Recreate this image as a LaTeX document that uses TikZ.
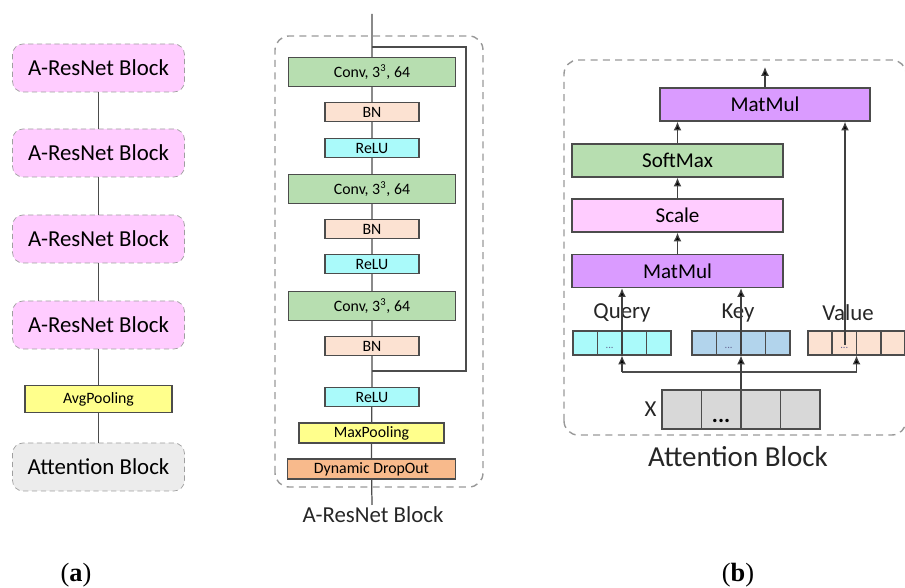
\documentclass[tikz,border=0pt]{standalone}
\usepackage{fontspec}
\setmainfont{Carlito}
\newfontfamily\capfont{Liberation Serif}
\usepackage{tikz}
\usetikzlibrary{positioning,arrows.meta,calc}
\definecolor{blockpink}{RGB}{255,204,255}
\definecolor{attgray}{RGB}{236,236,236}
\definecolor{convgreen}{RGB}{183,222,176}
\definecolor{bnpeach}{RGB}{252,226,210}
\definecolor{reluc}{RGB}{170,250,250}
\definecolor{poolyellow}{RGB}{255,255,140}
\definecolor{dropor}{RGB}{248,186,140}
\definecolor{matpurple}{RGB}{218,155,255}
\definecolor{kblue}{RGB}{178,212,236}
\definecolor{xgray}{RGB}{216,216,216}
\tikzset{
  wire/.style={draw=black!70, line width=0.7pt},
  arrowwire/.style={-{Latex[length=5pt,width=4.5pt,fill=black]}, draw=black!75, line width=0.7pt},
  blocknode/.style={draw=gray!75, dashed, dash pattern=on 3pt off 2pt, rounded corners=6pt, fill=blockpink, minimum width=3.44cm, minimum height=0.96cm, font=\fontsize{13}{15}\selectfont},
  layernode/.style={draw=black!70, line width=0.7pt, minimum width=3.34cm, minimum height=0.58cm, inner sep=0pt, font=\fontsize{9}{11}\selectfont},
  smallnode/.style={layernode, minimum width=1.88cm, minimum height=0.38cm},
  opnode/.style={draw=black!70, line width=0.8pt, minimum width=4.22cm, minimum height=0.66cm, inner sep=0pt, font=\fontsize{12}{14}\selectfont},
  cellrow/.style={draw=black!70, line width=0.6pt, minimum width=1.96cm, minimum height=0.48cm, inner sep=0pt},
  cellline/.style={draw=black!70, line width=0.6pt},
  dotsnode/.style={font=\fontsize{6}{7}\selectfont, text=blue!30!black!60, inner sep=0pt},
  panelbox/.style={draw=gray!80, dashed, dash pattern=on 4pt off 3pt, line width=0.8pt, rounded corners=8pt},
  labelnode/.style={font=\fontsize{13}{15}\selectfont, text=black!85, inner sep=1pt}
}
\begin{document}
\begin{tikzpicture}[>=Latex]
  \useasboundingbox (0,0) rectangle (18.10,11.76);
  % (a) network
  \node[blocknode] (blk1) at (1.97,10.40) {A-ResNet Block};
  \node[blocknode] (blk2) at (1.97,8.70) {A-ResNet Block};
  \node[blocknode] (blk3) at (1.97,6.98) {A-ResNet Block};
  \node[blocknode] (blk4) at (1.97,5.26) {A-ResNet Block};
  \node[layernode, fill=poolyellow, minimum width=2.94cm, minimum height=0.54cm] (avgp) at (1.97,3.78) {AvgPooling};
  \node[blocknode, fill=attgray] (attb) at (1.97,2.42) {Attention Block};
  \draw[wire] (blk1) -- (blk2) -- (blk3) -- (blk4) -- (avgp) -- (attb);

  % A-ResNet block
  \coordinate (resin) at (7.44,11.48);
  \coordinate (resout) at (7.44,1.66);
  \node[layernode, fill=convgreen] (conv1) at (7.44,10.32) {Conv, 3\textsuperscript{3}, 64};
  \node[smallnode, fill=bnpeach] (bn1) at (7.44,9.52) {BN};
  \node[smallnode, fill=reluc] (relu1) at (7.44,8.80) {ReLU};
  \node[layernode, fill=convgreen] (conv2) at (7.44,7.98) {Conv, 3\textsuperscript{3}, 64};
  \node[smallnode, fill=bnpeach] (bn2) at (7.44,7.18) {BN};
  \node[smallnode, fill=reluc] (relu2) at (7.44,6.48) {ReLU};
  \node[layernode, fill=convgreen] (conv3) at (7.44,5.64) {Conv, 3\textsuperscript{3}, 64};
  \node[smallnode, fill=bnpeach] (bn3) at (7.44,4.84) {BN};
  \node[smallnode, fill=reluc] (relu3) at (7.44,3.82) {ReLU};
  \node[layernode, fill=poolyellow, minimum width=2.90cm, minimum height=0.40cm] (maxp) at (7.43,3.10) {MaxPooling};
  \node[layernode, fill=dropor, minimum width=3.36cm, minimum height=0.40cm] (drop) at (7.43,2.38) {Dynamic DropOut};
  \draw[wire] (resin) -- (conv1) -- (bn1) -- (relu1) -- (conv2) -- (bn2) -- (relu2) -- (conv3) -- (bn3) -- (relu3) -- (maxp) -- (drop) -- (resout);
  \coordinate (skiptop) at (7.44,10.82);
  \coordinate (skipbot) at (7.44,4.34);
  \draw[wire] (skiptop) -- ++(1.88,0) |- (skipbot);
  \draw[panelbox] (5.50,2.02) rectangle (9.66,11.04);
  \node[labelnode] (reslabel) at (7.46,1.46) {A-ResNet Block};

  % attention block
  \draw[panelbox] (11.28,3.06) rectangle (18.12,10.56);
  \node[opnode, fill=matpurple, minimum width=4.2cm] (mm1) at (15.30,9.67) {MatMul};
  \node[opnode, fill=convgreen] (smax) at (13.55,8.55) {SoftMax};
  \node[opnode, fill=blockpink] (scale) at (13.55,7.45) {Scale};
  \node[opnode, fill=matpurple] (mm2) at (13.55,6.34) {MatMul};
  \coordinate (attout) at (15.30,10.42);
  \draw[arrowwire] (mm1) -- (attout);
  \draw[arrowwire] (smax.north) -- (smax.north |- mm1.south);
  \draw[arrowwire] (scale) -- (smax);
  \draw[arrowwire] (mm2) -- (scale);

  \node[cellrow, fill=reluc] (query) at (12.44,4.90) {};
  \node[cellrow, fill=kblue] (key) at (14.82,4.90) {};
  \node[cellrow, fill=bnpeach, minimum width=1.94cm] (value) at (17.13,4.90) {};
  \foreach \row in {query,key,value}{
    \foreach \i in {1,2,3}
      \draw[cellline] ($(\row.south west)!\i/4!(\row.south east)$) -- ($(\row.north west)!\i/4!(\row.north east)$);
    \node[dotsnode] (\row-dots) at ($(\row.south west)!0.375!(\row.south east)+(0,0.15)$) {...};
  }
  \node[labelnode] (qlabel) at (12.44,5.50) {Query};
  \node[labelnode] (klabel) at (14.76,5.50) {Key};
  \node[labelnode] (vlabel) at (16.96,5.50) {Value};

  \node[cellrow, fill=xgray, minimum width=3.16cm, minimum height=0.78cm] (xin) at (14.82,3.57) {};
  \foreach \i in {1,2,3}
    \draw[cellline] ($(xin.south west)!\i/4!(xin.south east)$) -- ($(xin.north west)!\i/4!(xin.north east)$);
  \node[labelnode, left=0.06cm of xin] (xlabel) {X};
  \node[font=\fontsize{13}{15}\bfseries, inner sep=0pt] (xdots) at ($(xin.south west)!0.375!(xin.south east)+(0,0.18)$) {...};

  \coordinate (split) at (14.82,4.32);
  \draw[wire] (split -| query.south) -- (split -| value.south);
  \draw[arrowwire] (split -| query.south) -- (query.south);
  \draw[arrowwire] (split -| value.south) -- (value.south);
  \draw[arrowwire] (xin.north) -- (key.south);
  \draw[arrowwire] (query.south) -- (query.south |- mm2.south);
  \draw[arrowwire] (key.south) -- (key.south |- mm2.south);
  \coordinate (vtap) at (16.90,4.86);
  \draw[arrowwire] (vtap) -- (vtap |- mm1.south);
  \node[font=\fontsize{16.5}{19}\selectfont, text=black!85] (attlabel) at (14.76,2.62) {Attention Block};

  % captions
  \node[font=\capfont\fontsize{15}{18}\selectfont] (capa) at (1.52,0.26) {(\textbf{a})};
  \node[font=\capfont\fontsize{15}{18}\selectfont] (capb) at (14.76,0.26) {(\textbf{b})};
\end{tikzpicture}
\end{document}
